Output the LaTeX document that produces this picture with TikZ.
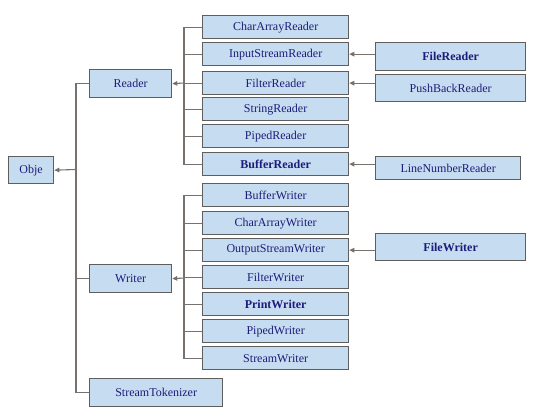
\documentclass[tikz,border=0pt]{standalone}
\usepackage{fontspec}
\setmainfont{Liberation Serif}
\usetikzlibrary{arrows.meta}
\definecolor{boxfill}{HTML}{C6DCF0}
\definecolor{boxline}{HTML}{5E5E5E}
\definecolor{txt}{HTML}{1C1C7A}
\definecolor{conn}{HTML}{77726D}
\begin{document}
\begin{tikzpicture}[x=1pt,y=-1pt,
  cls/.style={draw=boxline,line width=1.3pt,fill=boxfill,text=txt,font=\fontsize{12}{14}\selectfont,inner sep=0pt,anchor=north west},
  bcls/.style={cls,font=\fontsize{12}{14}\selectfont\bfseries},
  link/.style={draw=conn,line width=1.1pt},
  inh/.style={link,-{Triangle[length=5pt,width=4.5pt,fill=boxline]}}]
\useasboundingbox (0,0) rectangle (545,412);
\newcommand{\bx}[7][cls]{\node[#1,minimum width=#6pt,minimum height=#7pt] (#2) at (#4,#5) {#3};}
% left column
\bx{obje}{Obje}{8}{156}{45}{27}
\bx{reader}{Reader}{89}{69}{82}{28}
\bx{writer}{Writer}{89}{264}{82}{28}
\bx{tok}{StreamTokenizer}{89}{378}{133}{28}
% reader children
\bx{car}{CharArrayReader}{202}{15}{146}{23}
\bx{isr}{InputStreamReader}{202}{42}{146}{23}
\bx{fr}{FilterReader}{202}{71}{146}{23}
\bx{sr}{StringReader}{202}{97}{146}{23}
\bx{pr}{PipedReader}{202}{124}{146}{23}
\bx[bcls]{br}{BufferReader}{202}{152}{146}{23}
% writer children
\bx{bw}{BufferWriter}{202}{183}{146}{23}
\bx{caw}{CharArrayWriter}{202}{211}{146}{23}
\bx{osw}{OutputStreamWriter}{202}{238}{146}{23}
\bx{fw}{FilterWriter}{202}{265}{146}{23}
\bx[bcls]{pw}{PrintWriter}{202}{292}{146}{23}
\bx{pdw}{PipedWriter}{202}{319}{146}{23}
\bx{stw}{StreamWriter}{202}{346}{146}{23}
% right column
\bx[bcls]{filer}{FileReader}{375}{42}{150}{28}
\bx{pbr}{PushBackReader}{375}{74}{150}{27}
\bx{lnr}{LineNumberReader}{375}{156}{145}{23}
\bx[bcls]{filew}{FileWriter}{375}{233}{150}{27}
% trunk to Obje
\coordinate (tj) at (76,169.5);
\draw[link] (reader.west) -| (tj) |- (tok.west);
\draw[link] (writer.west) -- (writer.west -| tj);
\draw[inh] (tj) -- (obje.east);
% reader bracket
\coordinate (rj) at (184,83);
\draw[link] (car.west) -| (rj |- car.west) |- (br.west);
\foreach \n in {isr,fr,sr,pr} \draw[link] (\n.west) -- (\n.west -| rj);
\draw[inh] (rj) -- (reader.east);
% writer bracket
\coordinate (wj) at (184,278);
\draw[link] (bw.west) -| (wj |- bw.west) |- (stw.west);
\foreach \n in {caw,osw,fw,pw,pdw} \draw[link] (\n.west) -- (\n.west -| wj);
\draw[inh] (wj) -- (writer.east);
% right arrows
\draw[inh] (filer.west |- isr.east) -- (isr.east);
\draw[inh] (pbr.west |- fr.east) -- (fr.east);
\draw[inh] (lnr.west |- br.east) -- (br.east);
\draw[inh] (filew.west |- osw.east) -- (osw.east);
\end{tikzpicture}
\end{document}
